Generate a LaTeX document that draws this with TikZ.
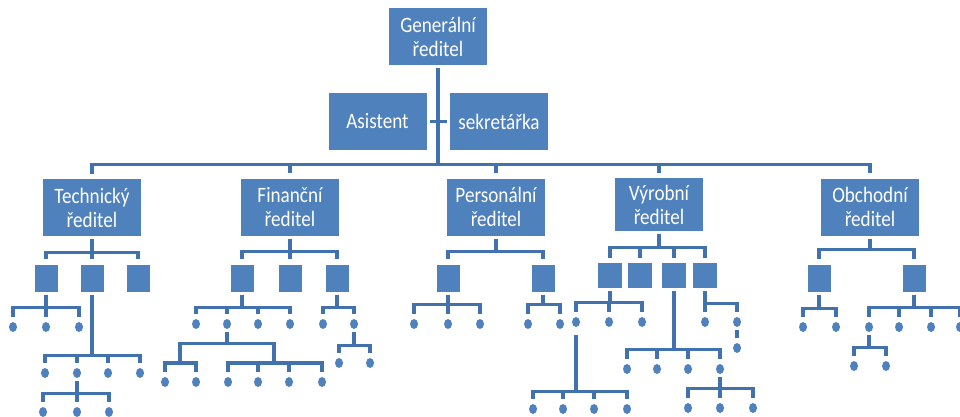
\documentclass[tikz,border=0pt]{standalone}
\usepackage{fontspec}
\setmainfont{Carlito}
\newfontfamily\boxfont[FakeStretch=0.87]{Carlito}
\usetikzlibrary{shapes.geometric}
\definecolor{boxblue}{RGB}{79,129,189}
\definecolor{lineblue}{RGB}{66,114,173}

\begin{document}
\begin{tikzpicture}[x=1pt, y=-1pt,
      box/.style={fill=boxblue, text=white, minimum width=98pt, minimum height=57pt,
        inner sep=0pt, align=center, font=\boxfont\fontsize{22}{24}\selectfont},
      sbox/.style={fill=boxblue, minimum width=23pt, minimum height=27pt, inner sep=0pt},
      dot/.style={fill=boxblue, ellipse, minimum width=8pt, minimum height=10pt, inner sep=0pt},
      conn/.style={draw=lineblue, line width=3.2pt, shorten <=3pt, shorten >=5pt}]
    \useasboundingbox (0,0) rectangle (960,417);
    % top level
    \node (GR) [box] at (438,36.5) {Generální\\ředitel};
    \node (AS) [box] at (377.5,121.5) {Asistent};
    \node (SE) [box] at (499,121.5) {sekretářka};
    \draw[conn, shorten >=3pt] (AS.east) -- (SE.west);
    % directors
    \node (TR) [box] at (92,207.5) {Technický\\ředitel};
    \node (FR) [box] at (290,207) {Finanční\\ředitel};
    \node (PR) [box] at (496,207) {Personální\\ředitel};
    \node (VR) [box, minimum width=88pt, minimum height=53pt] at (659,204.5) {Výrobní\\ředitel};
    \node (OR) [box] at (870,207) {Obchodní\\ředitel};
    \foreach \n in {TR,FR,PR,VR,OR}
      \draw[conn] (GR.south) -- ++(0,99) -| (\n.north);

    % Technicky reditel
    \foreach \x [count=\i] in {46,92,138} {
      \node (t\i) [sbox] at (\x,278) {};
      \draw[conn] (TR.south) -- ++(0,16) -| (t\i.north);
    }
    \foreach \x [count=\i] in {13,46,79} {
      \node (t1-\i) [dot] at (\x,327) {};
      \draw[conn] (t1.south) -- ++(0,15.5) -| (t1-\i.north);
    }
    \foreach \x [count=\i] in {45,77,108,140} {
      \node (t2-\i) [dot] at (\x,373) {};
      \draw[conn] (t2.south) -- ++(0,63.5) -| (t2-\i.north);
    }
    \foreach \x [count=\i] in {43,77,109} {
      \node (t2-2-\i) [dot] at (\x,412) {};
      \draw[conn] (t2-2.south) -- ++(0,15.5) -| (t2-2-\i.north);
    }

    % Financni reditel
    \foreach \x [count=\i] in {242,290,337} {
      \node (f\i) [sbox] at (\x,278) {};
      \draw[conn] (FR.south) -- ++(0,16) -| (f\i.north);
    }
    \foreach \x [count=\i] in {196,227,258,290} {
      \node (f1-\i) [dot] at (\x,324) {};
      \draw[conn] (f1.south) -- ++(0,15.5) -| (f1-\i.north);
    }
    \coordinate (fa) at (180,363);
    \coordinate (fb) at (274,363);
    \draw[conn, shorten >=0pt] (f1-2.south) -- ++(0,14.5) -| (fa);
    \draw[conn, shorten >=0pt] (f1-2.south) -- ++(0,14.5) -| (fb);
    \foreach \x [count=\i] in {165,196} {
      \node (fa-\i) [dot] at (\x,382) {};
      \draw[conn, shorten <=0pt] (fa) -| (fa-\i.north);
    }
    \foreach \x [count=\i] in {228,258,289,322} {
      \node (fb-\i) [dot] at (\x,382) {};
      \draw[conn, shorten <=0pt] (fb) -| (fb-\i.north);
    }
    \foreach \x [count=\i] in {323,354} {
      \node (f3-\i) [dot] at (\x,324) {};
      \draw[conn] (f3.south) -- ++(0,15.5) -| (f3-\i.north);
    }
    \foreach \x [count=\i] in {339,370} {
      \node (f3-2-\i) [dot] at (\x,363) {};
      \draw[conn] (f3-2.south) -- ++(0,16.5) -| (f3-2-\i.north);
    }

    % Personalni reditel
    \foreach \x [count=\i] in {448,543} {
      \node (p\i) [sbox] at (\x,278) {};
      \draw[conn] (PR.south) -- ++(0,16) -| (p\i.north);
    }
    \foreach \x [count=\i] in {414,448,480} {
      \node (p1-\i) [dot] at (\x,324) {};
      \draw[conn] (p1.south) -- ++(0,12.5) -| (p1-\i.north);
    }
    \foreach \x [count=\i] in {528,560} {
      \node (p2-\i) [dot] at (\x,324) {};
      \draw[conn] (p2.south) -- ++(0,12.5) -| (p2-\i.north);
    }

    % Vyrobni reditel
    \foreach \x [count=\i] in {610,640,674,705} {
      \node (v\i) [sbox, minimum width=24pt, minimum height=25pt] at (\x,275.5) {};
      \draw[conn] (VR.south) -- ++(0,16) -| (v\i.north);
    }
    \foreach \x [count=\i] in {576,609,642} {
      \node (v1-\i) [dot] at (\x,322) {};
      \draw[conn] (v1.south) -- ++(0,14) -| (v1-\i.north);
    }
    \foreach \x [count=\i] in {533,563,594,627} {
      \node (v1-1-\i) [dot] at (\x,409) {};
      \draw[conn, shorten <=8pt] (v1-1.south) -- ++(0,64.5) -| (v1-1-\i.north);
    }
    \foreach \x [count=\i] in {627,657,688,720} {
      \node (v3-\i) [dot] at (\x,369) {};
      \draw[conn] (v3.south) -- ++(0,61) -| (v3-\i.north);
    }
    \foreach \x [count=\i] in {688,720,753} {
      \node (v3-4-\i) [dot] at (\x,408) {};
      \draw[conn] (v3-4.south) -- ++(0,14.5) -| (v3-4-\i.north);
    }
    \foreach \x [count=\i] in {705,737} {
      \node (v4-\i) [dot] at (\x,322) {};
      \draw[conn] (v4.south) -- ++(0,15) -| (v4-\i.north);
    }
    \node (v4-2-1) [dot] at (737,348) {};
    \draw[conn] (v4-2.south) -- (v4-2-1.north);

    % Obchodni reditel
    \foreach \x [count=\i] in {819,914} {
      \node (o\i) [sbox] at (\x,278) {};
      \draw[conn] (OR.south) -- ++(0,14) -| (o\i.north);
    }
    \foreach \x [count=\i] in {803,836} {
      \node (o1-\i) [dot] at (\x,327) {};
      \draw[conn] (o1.south) -- ++(0,16.5) -| (o1-\i.north);
    }
    \foreach \x [count=\i] in {869,899,931,960} {
      \node (o2-\i) [dot] at (\x,327) {};
      \draw[conn] (o2.south) -- ++(0,15.5) -| (o2-\i.north);
    }
    \foreach \x [count=\i] in {854,886} {
      \node (o2-1-\i) [dot] at (\x,366) {};
      \draw[conn] (o2-1.south) -- ++(0,15.5) -| (o2-1-\i.north);
    }
\end{tikzpicture}
\end{document}
